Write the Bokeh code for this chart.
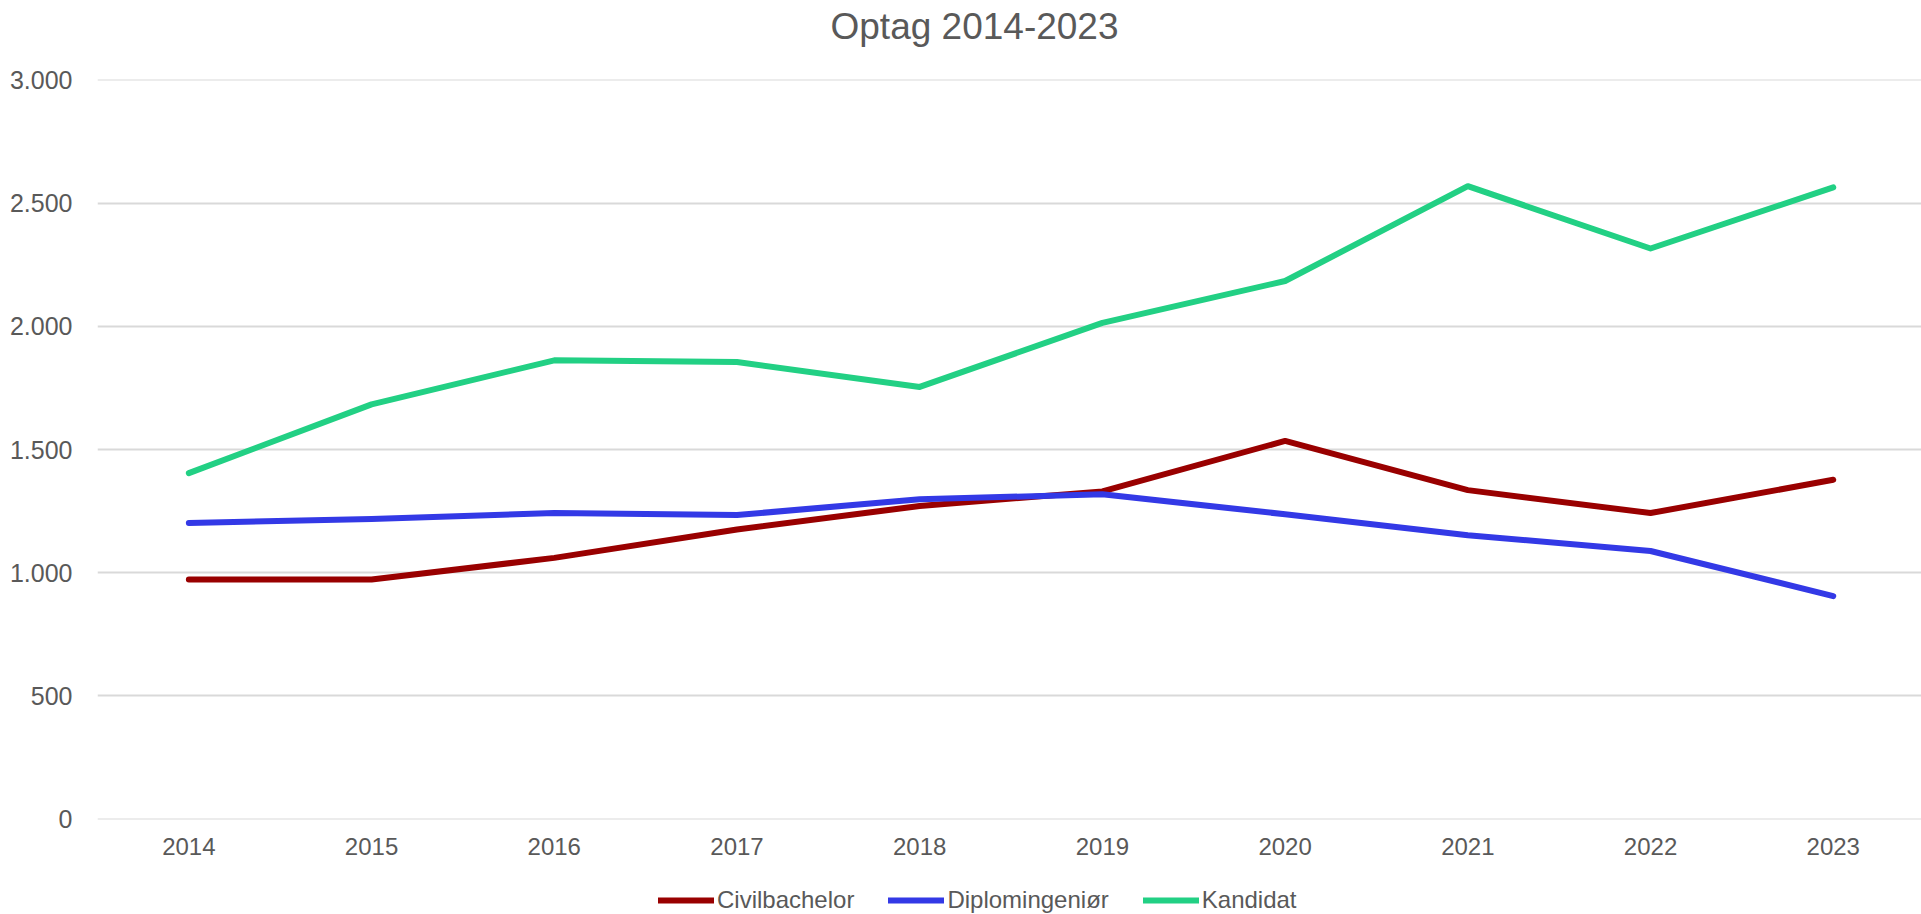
from bokeh.plotting import figure
from bokeh.models import (Range1d, FixedTicker, CustomJSTickFormatter, Legend,
                          LegendItem, Label)
from bokeh.layouts import column
from bokeh.embed import file_html
from bokeh.resources import INLINE

years = [2014, 2015, 2016, 2017, 2018, 2019, 2020, 2021, 2022, 2023]
civilbachelor = [972, 972, 1060, 1175, 1271, 1330, 1535, 1335, 1242, 1377]
diplomingenior = [1202, 1218, 1242, 1234, 1298, 1318, 1237, 1152, 1088, 905]
kandidat = [1404, 1683, 1862, 1855, 1754, 2014, 2184, 2569, 2316, 2564]
series_names = ["Civilbachelor", "Diplomingeniør", "Kandidat"]
series_colors = ["#990000", "#3339e6", "#22d084"]
y_ticks = [0, 500, 1000, 1500, 2000, 2500, 3000]
title_text = "Optag 2014-2023"

FONT = "Liberation Sans"
TXT = "#595959"
W = 1921
series_values = [civilbachelor, diplomingenior, kandidat]


def blank(height):
    f = figure(width=W, height=height, output_backend="svg",
               toolbar_location=None, x_axis_type=None, y_axis_type=None,
               x_range=Range1d(0, 1), y_range=Range1d(0, 1), min_border=0)
    f.outline_line_color = None
    f.grid.grid_line_color = None
    f.border_fill_color = "white"
    f.background_fill_color = "white"
    return f


# ---- title strip
t = blank(60)
t.add_layout(Label(x=733, y=34, x_units="screen", y_units="screen",
                   text=title_text, text_font=FONT, text_font_size="37px",
                   text_color=TXT, text_align="left",
                   text_baseline="alphabetic"))

# ---- main chart (range padded slightly so the 0 and 3.000 gridlines draw)
p = figure(width=W, height=808, output_backend="svg", toolbar_location=None,
           x_range=Range1d(2013.5, 2023.483), y_range=Range1d(-2, 3002),
           min_border_left=97, min_border_right=0, min_border_top=19,
           min_border_bottom=49)
p.outline_line_color = None
p.background_fill_color = "white"
p.border_fill_color = "white"

for vals, c in zip(series_values, series_colors):
    p.line(years, vals, line_color=c, line_width=6,
           line_cap="round", line_join="round")

p.xgrid.grid_line_color = None
p.ygrid.grid_line_color = "#d9d9d9"
p.ygrid.grid_line_width = 2
p.ygrid.level = "underlay"

p.xaxis.ticker = FixedTicker(ticks=years)
p.yaxis.ticker = FixedTicker(ticks=y_ticks)
p.yaxis.formatter = CustomJSTickFormatter(code="""
return Math.round(tick).toString().replace(/\\B(?=(\\d{3})+(?!\\d))/g, ".");
""")
for ax in (p.xaxis[0], p.yaxis[0]):
    ax.axis_line_color = None
    ax.major_tick_line_color = None
    ax.minor_tick_line_color = None
    ax.major_tick_out = 0
    ax.major_tick_in = 0
    ax.minor_tick_out = 0
    ax.major_label_text_font = FONT
    ax.major_label_text_color = TXT
p.xaxis.major_label_text_font_size = "24px"
p.yaxis.major_label_text_font_size = "25px"
p.xaxis.major_label_standoff = 18
p.yaxis.major_label_standoff = 25

# ---- legend strip (series lines lie outside this strip's ranges, so only
# their legend swatches show)
q = blank(46)
leg_renderers = [q.line(years, vals, line_color=c, line_width=6,
                        line_cap="round")
                 for vals, c in zip(series_values, series_colors)]
legend = Legend(items=[LegendItem(label=n, renderers=[r])
                       for n, r in zip(series_names, leg_renderers)],
                orientation="horizontal", location=(561, 0),
                glyph_width=56, glyph_height=20, label_standoff=3, spacing=34,
                padding=0, margin=0, border_line_color=None,
                background_fill_alpha=0,
                label_text_font=FONT, label_text_font_size="24px",
                label_text_color=TXT)
q.add_layout(legend, "center")

layout = column(t, p, q, spacing=0)
open("out.html", "w").write(file_html(layout, INLINE))
